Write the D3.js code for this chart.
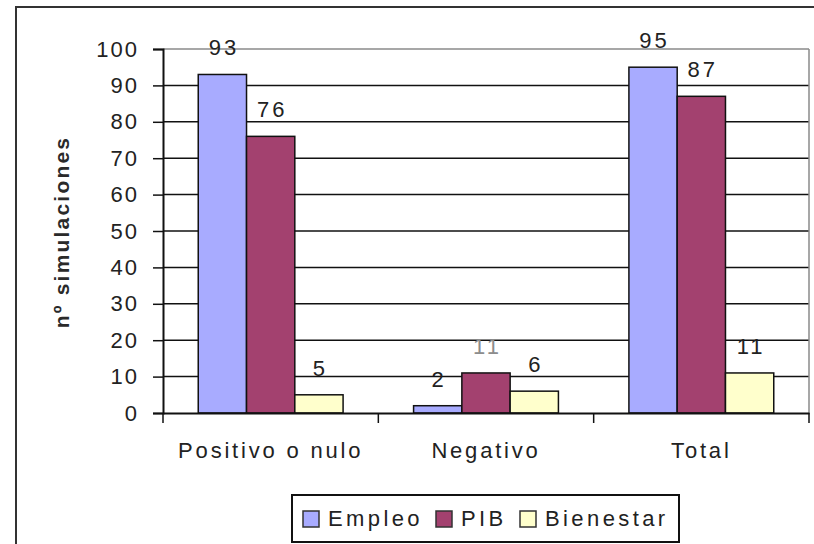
<!DOCTYPE html>
<html>
<head>
<meta charset="utf-8">
<script src="https://cdn.jsdelivr.net/npm/d3@7"></script>
<style>
  body { margin: 0; background: #fff; }
  svg { display: block; font-family: "Liberation Sans", Arial, sans-serif; }
</style>
</head>
<body>
<svg id="chart" width="814" height="544"></svg>
<script>
// data
const categories = ['Positivo o nulo', 'Negativo', 'Total'];
const seriesNames = ['Empleo', 'PIB', 'Bienestar'];
const empleo = [93, 2, 95];
const pib = [76, 11, 87];
const bienestar = [5, 6, 11];
const yTicks = [0, 10, 20, 30, 40, 50, 60, 70, 80, 90, 100];
const colors = ['#a8abff', '#a3416f', '#ffffcc'];

const values = [empleo, pib, bienestar];

const svg = d3.select('#chart');
const ink = '#222';
const font = '"Liberation Sans", Arial, sans-serif';

// outer frame (runs off right and bottom edges)
svg.append('rect')
  .attr('x', 16).attr('y', 7)
  .attr('width', 900).attr('height', 600)
  .attr('fill', 'none')
  .attr('stroke', '#333')
  .attr('stroke-width', 2);

const plot = { left: 163, right: 809, top: 49, bottom: 413 };

const x0 = d3.scaleBand()
  .domain(categories)
  .range([plot.left, plot.right]);

const x1 = d3.scaleBand()
  .domain(seriesNames)
  .range([0, x0.bandwidth()])
  .paddingOuter(0.73);

const y = d3.scaleLinear()
  .domain([0, 100])
  .range([plot.bottom, plot.top]);

// gridlines
svg.append('g')
  .selectAll('line')
  .data(yTicks.filter(d => d > 0))
  .join('line')
    .attr('x1', plot.left).attr('x2', plot.right)
    .attr('y1', d => y(d)).attr('y2', d => y(d))
    .attr('stroke', d => d === 100 ? '#8a8a8a' : '#111')
    .attr('stroke-width', 1.5);

// right border of plot area
svg.append('line')
  .attr('x1', plot.right).attr('x2', plot.right)
  .attr('y1', plot.top).attr('y2', plot.bottom)
  .attr('stroke', '#8a8a8a')
  .attr('stroke-width', 1.5);

// bars
const groups = svg.append('g')
  .selectAll('g')
  .data(categories)
  .join('g')
    .attr('transform', d => `translate(${x0(d)},0)`);

const cells = (c, i) => seriesNames.map((s, j) => ({ s, j, v: values[j][i], ci: i }));

groups.selectAll('rect')
  .data(cells)
  .join('rect')
    .attr('x', d => x1(d.s))
    .attr('y', d => y(d.v))
    .attr('width', x1.bandwidth())
    .attr('height', d => y(0) - y(d.v))
    .attr('fill', d => colors[d.j])
    .attr('stroke', '#111')
    .attr('stroke-width', 1.5);

groups.selectAll('text')
  .data(cells)
  .join('text')
    .attr('x', d => x1(d.s) + x1.bandwidth() / 2 + 1.5)
    .attr('y', d => y(d.v) - 19)
    .attr('text-anchor', 'middle')
    .attr('font-size', 22)
    .attr('letter-spacing', 3)
    .attr('fill', d => (d.ci === 1 && d.j === 1) ? '#8c8c8c' : ink)
    .text(d => d.v);

// y axis
const yAxis = svg.append('g')
  .attr('transform', `translate(${plot.left},0)`)
  .call(d3.axisLeft(y).tickValues(yTicks).tickSize(10).tickPadding(14));
yAxis.select('.domain').attr('stroke', '#111').attr('stroke-width', 2);
yAxis.selectAll('.tick line').attr('stroke', '#111').attr('stroke-width', 1.5);
yAxis.selectAll('.tick text')
  .attr('font-size', 22)
  .attr('letter-spacing', 2)
  .attr('fill', ink)
  .attr('font-family', font);

// x axis
const xAxis = svg.append('g')
  .attr('transform', `translate(0,${plot.bottom})`)
  .call(d3.axisBottom(x0).tickSize(0).tickPadding(29));
xAxis.select('.domain').attr('stroke', '#111').attr('stroke-width', 2);
xAxis.selectAll('.tick text')
  .attr('font-size', 22)
  .attr('letter-spacing', 2.8)
  .attr('fill', ink)
  .attr('font-family', font);

// category separator ticks
svg.append('g')
  .selectAll('line')
  .data(categories.concat(['end']))
  .join('line')
    .attr('x1', (d, i) => i < categories.length ? x0(d) : plot.right)
    .attr('x2', (d, i) => i < categories.length ? x0(d) : plot.right)
    .attr('y1', plot.bottom)
    .attr('y2', plot.bottom + 10)
    .attr('stroke', '#111')
    .attr('stroke-width', 1.5);

// y axis title
svg.append('text')
  .attr('transform', `translate(69,${(137 + 327) / 2}) rotate(-90)`)
  .attr('text-anchor', 'middle')
  .attr('font-size', 21)
  .attr('font-weight', 'bold')
  .attr('letter-spacing', 2.2)
  .attr('fill', '#2a2a2a')
  .text('nº simulaciones');

// legend
const legend = svg.append('g');
legend.append('rect')
  .attr('x', 292).attr('y', 495)
  .attr('width', 387).attr('height', 47)
  .attr('fill', '#fff')
  .attr('stroke', '#111')
  .attr('stroke-width', 2);

const legendX = [303, 436, 520];
const items = legend.selectAll('g.item')
  .data(seriesNames)
  .join('g')
    .attr('class', 'item')
    .attr('transform', (d, i) => `translate(${legendX[i]},510)`);

items.append('rect')
  .attr('width', 16).attr('height', 16)
  .attr('y', 1)
  .attr('fill', (d, i) => colors[i])
  .attr('stroke', '#333')
  .attr('stroke-width', 1.5);

items.append('text')
  .attr('x', 25)
  .attr('y', 16)
  .attr('font-size', 22)
  .attr('letter-spacing', 3.4)
  .attr('fill', ink)
  .text(d => d);
</script>
</body>
</html>
